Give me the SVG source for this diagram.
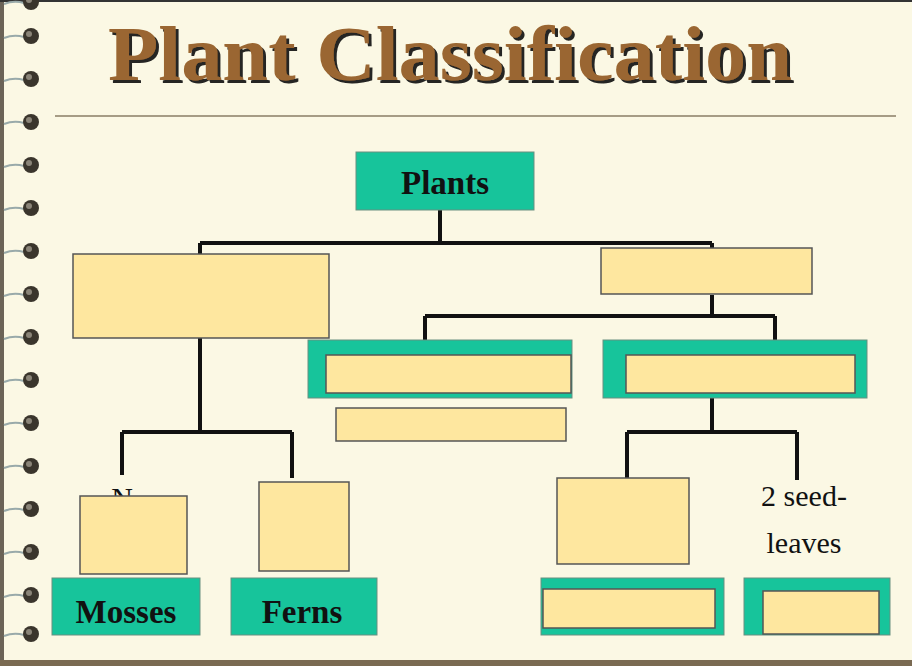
<svg xmlns="http://www.w3.org/2000/svg" width="912" height="666" viewBox="0 0 912 666">
<defs>
<style>
.teal{fill:#17c49b;stroke:#6b8f80;stroke-width:1}
.cream{fill:#fee79f;stroke:#555;stroke-width:1.5}
.ln{stroke:#111;stroke-width:4;fill:none}
.lbl{font-family:"Liberation Serif",serif;font-weight:bold;font-size:33px;fill:#111;text-anchor:middle}
.txt{font-family:"Liberation Serif",serif;font-size:30px;fill:#111;text-anchor:middle}
</style>
<filter id="sh" x="-5%" y="-20%" width="110%" height="140%"><feDropShadow dx="3" dy="3" stdDeviation="0.6" flood-color="#111" flood-opacity="0.9"/></filter>
<g id="ring"><path d="M4,8 Q14,4 24,7" stroke="#9aa" stroke-width="2" fill="none"/><circle cx="31" cy="6" r="8" fill="#3a352c"/><circle cx="29" cy="4" r="3" fill="#8a8478"/></g>
</defs>
<rect width="912" height="666" fill="#fbf8e4"/>
<rect x="0" y="0" width="4" height="666" fill="#6b6357"/>
<rect x="0" y="660" width="912" height="6" fill="#7a6a52"/>
<rect x="0" y="0" width="912" height="2" fill="#333"/>
<g id="spiral">
<use href="#ring" y="-4"/><use href="#ring" y="30"/><use href="#ring" y="73"/><use href="#ring" y="116"/><use href="#ring" y="159"/><use href="#ring" y="202"/><use href="#ring" y="245"/><use href="#ring" y="288"/><use href="#ring" y="331"/><use href="#ring" y="374"/><use href="#ring" y="417"/><use href="#ring" y="460"/><use href="#ring" y="503"/><use href="#ring" y="546"/><use href="#ring" y="589"/><use href="#ring" y="628"/>
</g>
<g id="title">
<text x="108" y="80" textLength="684" lengthAdjust="spacingAndGlyphs" font-family="Liberation Serif,serif" font-weight="bold" font-size="78" fill="#9a6630" filter="url(#sh)">Plant Classification</text>
<line x1="55" y1="116" x2="896" y2="116" stroke="#8a7e66" stroke-width="1.5"/>
</g>
<g id="connectors">
<path class="ln" d="M440,210 V243 M200,243 H712 M200,243 V256 M712,243 V250"/>
<path class="ln" d="M712,295 V316 M425,316 H775 M425,316 V340 M775,316 V340"/>
<path class="ln" d="M200,338 V432 M122,432 H292 M122,432 V475 M292,432 V478"/>
<path class="ln" d="M712,398 V432 M627,432 H797 M627,432 V478 M797,432 V480"/>
</g>
<g id="n-plants"><rect class="teal" x="356" y="152" width="178" height="58"/><text class="lbl" x="445" y="194">Plants</text></g>
<g id="n-left"><rect class="cream" x="73" y="254" width="256" height="84"/></g>
<g id="n-right"><rect class="cream" x="601" y="248" width="211" height="46"/></g>
<g id="n-mid"><rect class="teal" x="308" y="340" width="264" height="58"/><rect class="cream" x="326" y="355" width="245" height="38"/></g>
<g id="n-mid-sub"><rect class="cream" x="336" y="408" width="230" height="33"/></g>
<g id="n-rmid"><rect class="teal" x="603" y="340" width="264" height="58"/><rect class="cream" x="626" y="355" width="229" height="38"/></g>
<g id="n-nv"><text class="txt" x="122" y="508">N</text><rect class="cream" x="80" y="496" width="107" height="78"/></g>
<g id="n-v"><rect class="cream" x="259" y="482" width="90" height="89"/></g>
<g id="n-mono"><rect class="cream" x="557" y="478" width="132" height="86"/></g>
<g id="n-di"><text class="txt" x="804" y="506">2 seed-</text><text class="txt" x="804" y="553">leaves</text></g>
<g id="n-mosses"><rect class="teal" x="52" y="578" width="148" height="57"/><text class="lbl" x="126" y="623">Mosses</text></g>
<g id="n-ferns"><rect class="teal" x="231" y="578" width="146" height="57"/><text class="lbl" x="302" y="623">Ferns</text></g>
<g id="n-b1"><rect class="teal" x="541" y="578" width="183" height="57"/><rect class="cream" x="543" y="589" width="172" height="39"/></g>
<g id="n-b2"><rect class="teal" x="744" y="578" width="146" height="57"/><rect class="cream" x="763" y="591" width="116" height="43"/></g>
</svg>
